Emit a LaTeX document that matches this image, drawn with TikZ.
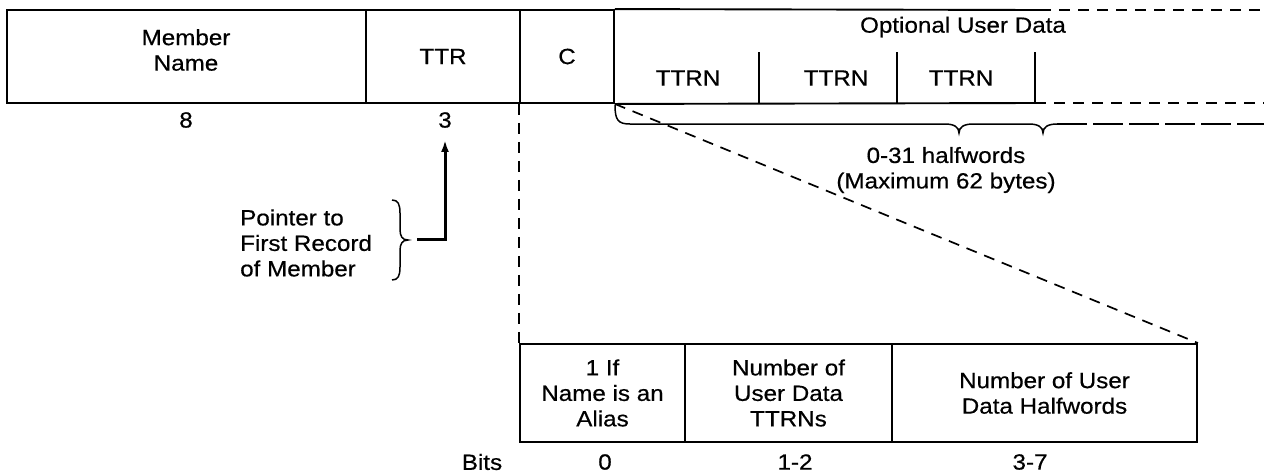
\documentclass[tikz,border=0pt]{standalone}
\usepackage{fontspec}
\setmainfont{Liberation Sans}[FakeStretch=1.1,FakeBold=0.5]
\usetikzlibrary{arrows.meta}
\begin{document}
\begin{tikzpicture}[x=1pt,y=-1pt,
  every node/.style={font=\fontsize{22}{25.5}\selectfont, inner sep=0pt},
  boxline/.style={line width=1.9pt},
  cell/.style={draw, line width=1.9pt, minimum height=93pt, minimum width=#1},
  bcell/.style={draw, line width=1.9pt, minimum height=98pt, minimum width=#1, align=center},
  dline/.style={line width=1.7pt, dash pattern=on 11pt off 8pt},
  thinline/.style={line width=1.5pt},
  pointer/.style={line width=3pt, -{Latex[length=12pt,width=8pt]}}
]
\useasboundingbox (0,0) rectangle (1264,475);

% top record
\node[cell=359pt] (mn) at (186.5,56.5) {};
\node[align=center] (mnt) at (186,50) {Member\\Name};
\node[cell=154pt] (ttr) at (443,56.5) {TTR};
\node[cell=94pt] (c) at (567,56.5) {C};

% optional user data region
\coordinate (topsolid) at (1040,10);
\coordinate (topend) at (1264,10);
\coordinate (botsolid) at (1035,103);
\coordinate (botend) at (1264,103);
\draw[boxline] (c.north east) -- (topsolid);
\draw[dline] (topsolid) -- (topend);
\draw[boxline] (c.south east) -- (botsolid);
\draw[dline] (botsolid) -- (botend);
\draw[boxline] (759,52) -- (759,103);
\draw[boxline] (897,52) -- (897,103);
\draw[boxline] (1035,52) -- (1035,103);

\node (opt) at (963,27) {Optional User Data};
\node (t1) at (688,78) {TTRN};
\node (t2) at (836,78) {TTRN};
\node (t3) at (961,78) {TTRN};

% sizes
\node (n8) at (186,120) {8};
\node (n3) at (445,120) {3};

% brace under optional data
\draw[thinline] (615,105) .. controls (615,120) and (618,124) .. (630,124)
  -- (945,124) .. controls (954,124) and (959,127) .. (959,133)
  .. controls (959,127) and (964,124) .. (973,124)
  -- (1029,124) .. controls (1038,124) and (1043,127) .. (1043,133)
  .. controls (1043,127) and (1048,124) .. (1057,124);
\draw[thinline, dash pattern=on 30pt off 6pt] (1057,124) -- (1264,124);
\node[align=center] (hw) at (946,170) {0-31 halfwords\\(Maximum 62 bytes)};

% pointer
\node[align=left, anchor=west] (ptr) at (240,243) {Pointer to\\First Record\\of Member};
\draw[thinline] (392,200) .. controls (398,200) and (400,204) .. (400,213)
  -- (400,229) .. controls (400,236) and (402,240) .. (408,240)
  .. controls (402,240) and (400,244) .. (400,251)
  -- (400,267) .. controls (400,276) and (398,280) .. (392,280);
\coordinate (foot) at (417,239);
\draw[pointer] (foot) -| ([yshift=-12pt]n3.south);

% bit layout box
\node[bcell=165pt] (b1) at (602.5,393) {1 If\\Name is an\\Alias};
\node[bcell=207pt] (b2) at (788.5,393) {Number of\\User Data\\TTRNs};
\node[bcell=305pt] (b3) at (1044.5,393) {Number of User\\Data Halfwords};

\draw[dline] (c.south west) -- (b1.north west);
\draw[dline] (c.south east) -- (b3.north east);

\node (bits) at (482,462) {Bits};
\node (bit0) at (605,462) {0};
\node (bit12) at (795,462) {1-2};
\node (bit37) at (1030,462) {3-7};
\end{tikzpicture}
\end{document}
